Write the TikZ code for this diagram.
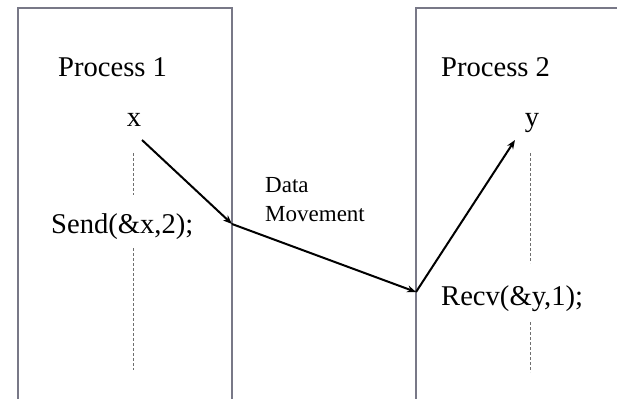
\documentclass[tikz,border=0pt]{standalone}
\usepackage{fontspec}
\setmainfont{Liberation Serif}
\usetikzlibrary{arrows.meta}
\definecolor{boxgray}{RGB}{120,120,135}
\definecolor{dashgray}{RGB}{110,110,110}
\begin{document}
\begin{tikzpicture}[x=1pt,y=-1pt,
  boxline/.style={draw=boxgray,line width=1.3pt},
  lifeline/.style={draw=dashgray,line width=0.8pt,dash pattern=on 3pt off 2pt},
  flow/.style={draw=black,line width=2pt,-{Stealth[length=9pt,width=7pt]}},
  big/.style={font=\fontsize{28.6}{32}\selectfont,inner sep=0pt},
  small/.style={font=\fontsize{23}{29}\selectfont,inner sep=0pt,align=left}]
\useasboundingbox (0,0) rectangle (617,398);
% process boxes
\draw[boxline] (18,400) -- (18,8) -- (232,8) -- (232,400);
\draw[boxline] (416,400) -- (416,8) -- (620,8);
% texts
\node[big,anchor=base west] (p1) at (58,77) {Process 1};
\node[big,anchor=base west] (p2) at (441,77) {Process 2};
\node[big,anchor=base] (x) at (134,127) {x};
\node[big,anchor=base] (y) at (532,127) {y};
\node[big,anchor=base west] (send) at (51,233) {Send(\&x,2);};
\node[big,anchor=base west] (recv) at (441,305) {Recv(\&y,1);};
\node[small,anchor=north west] (dm) at (265,177) {Data\\Movement};
% lifelines
\draw[lifeline] (133.5,153) -- (133.5,195);
\draw[lifeline] (133.5,248) -- (133.5,370);
\draw[lifeline] (530.5,153) -- (530.5,263);
\draw[lifeline] (530.5,322) -- (530.5,372);
% arrows
\coordinate (a0) at (142,140);
\coordinate (a1) at (232,224);
\coordinate (a2) at (416,292);
\coordinate (a3) at (515,140);
\draw[flow] (a0) -- (a1);
\draw[flow] (a1) -- (a2);
\draw[flow] (a2) -- (a3);
\end{tikzpicture}
\end{document}
